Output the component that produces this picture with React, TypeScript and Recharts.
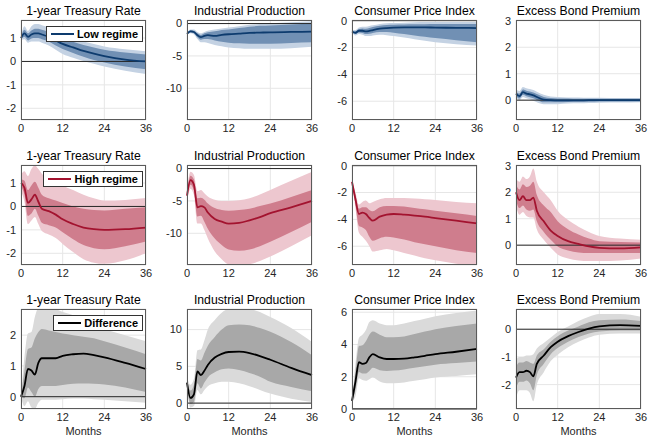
import React from "react";
import { ComposedChart, Area, Line, XAxis, YAxis, CartesianGrid, ReferenceLine } from "recharts";

const MONTHS = [0, 1, 2, 3, 4, 5, 6, 8, 10, 12, 15, 18, 21, 24, 30, 36];
const X_TICKS = [0, 12, 24, 36];
const TITLES = ["1-year Treasury Rate", "Industrial Production", "Consumer Price Index", "Excess Bond Premium"];
const FONT = '"Liberation Sans", Arial, Helvetica, sans-serif';

// low regime
const lowTsy = {
  mid: [1.0, 1.2, 1.05, 1.15, 1.2, 1.2, 1.15, 1.05, 0.9, 0.75, 0.6, 0.45, 0.33, 0.23, 0.08, 0.0],
  hi68: [1.05, 1.35, 1.2, 1.32, 1.4, 1.4, 1.35, 1.25, 1.12, 0.97, 0.84, 0.7, 0.6, 0.5, 0.38, 0.3],
  lo68: [0.95, 1.05, 0.9, 0.98, 1.0, 1.0, 0.95, 0.85, 0.68, 0.53, 0.36, 0.2, 0.06, -0.05, -0.22, -0.33],
  hi90: [1.1, 1.5, 1.3, 1.5, 1.6, 1.6, 1.55, 1.45, 1.3, 1.12, 0.98, 0.85, 0.74, 0.64, 0.52, 0.44],
  lo90: [0.9, 0.95, 0.8, 0.85, 0.85, 0.85, 0.8, 0.68, 0.5, 0.32, 0.16, 0.02, -0.1, -0.22, -0.4, -0.54],
};
const lowIp = {
  mid: [-1.6, -1.2, -1.3, -1.8, -2.1, -1.9, -1.8, -1.9, -1.75, -1.65, -1.55, -1.45, -1.4, -1.35, -1.3, -1.25],
  hi68: [-1.5, -1.05, -1.1, -1.5, -1.75, -1.5, -1.35, -1.2, -1.0, -0.9, -0.7, -0.5, -0.35, -0.3, -0.15, 0.0],
  lo68: [-1.7, -1.35, -1.5, -2.1, -2.5, -2.4, -2.4, -2.6, -2.8, -2.95, -3.05, -3.1, -3.1, -3.1, -3.0, -2.9],
  hi90: [-1.4, -0.9, -0.9, -1.3, -1.5, -1.3, -1.1, -0.9, -0.75, -0.6, -0.4, -0.2, -0.05, 0.05, 0.2, 0.35],
  lo90: [-1.8, -1.5, -1.7, -2.4, -2.9, -2.9, -3.0, -3.3, -3.5, -3.7, -3.8, -3.9, -3.9, -3.9, -3.8, -3.6],
};
const lowCpi = {
  mid: [-0.8, -0.9, -0.75, -0.75, -0.8, -0.76, -0.7, -0.6, -0.55, -0.52, -0.5, -0.5, -0.5, -0.52, -0.53, -0.55],
  hi68: [-0.75, -0.8, -0.62, -0.58, -0.6, -0.55, -0.48, -0.38, -0.32, -0.3, -0.28, -0.27, -0.26, -0.25, -0.25, -0.25],
  lo68: [-0.85, -1.0, -0.88, -0.92, -1.0, -0.98, -0.92, -0.85, -0.85, -0.9, -1.0, -1.1, -1.2, -1.3, -1.45, -1.6],
  hi90: [-0.7, -0.7, -0.5, -0.45, -0.45, -0.4, -0.35, -0.25, -0.2, -0.18, -0.15, -0.12, -0.1, -0.1, -0.1, -0.1],
  lo90: [-0.9, -1.1, -1.0, -1.05, -1.15, -1.15, -1.1, -1.05, -1.08, -1.15, -1.25, -1.38, -1.5, -1.6, -1.75, -1.85],
};
const lowEbp = {
  mid: [0.25, 0.15, 0.3, 0.25, 0.22, 0.18, 0.12, 0.02, 0.0, -0.01, -0.01, -0.01, 0.0, 0.0, 0.0, 0.0],
  hi68: [0.33, 0.25, 0.4, 0.36, 0.33, 0.29, 0.23, 0.12, 0.08, 0.06, 0.06, 0.05, 0.05, 0.05, 0.05, 0.05],
  lo68: [0.17, 0.06, 0.2, 0.15, 0.11, 0.07, 0.01, -0.08, -0.08, -0.08, -0.07, -0.06, -0.06, -0.05, -0.05, -0.05],
  hi90: [0.4, 0.35, 0.5, 0.45, 0.42, 0.38, 0.32, 0.2, 0.14, 0.12, 0.1, 0.1, 0.09, 0.09, 0.08, 0.08],
  lo90: [0.1, 0.0, 0.12, 0.07, 0.03, -0.02, -0.08, -0.15, -0.15, -0.15, -0.13, -0.12, -0.11, -0.1, -0.09, -0.08],
};

// high regime
const highTsy = {
  mid: [1.0, 0.8, 0.15, 0.3, 0.5, 0.2, -0.1, -0.2, -0.35, -0.55, -0.75, -0.9, -0.97, -1.0, -0.97, -0.9],
  hi68: [1.15, 1.1, 0.7, 0.9, 1.05, 0.8, 0.5, 0.35, 0.25, 0.15, 0.0, -0.1, -0.15, -0.17, -0.1, -0.03],
  lo68: [0.85, 0.5, -0.4, -0.3, -0.1, -0.4, -0.7, -0.8, -0.9, -1.1, -1.4, -1.65, -1.78, -1.83, -1.7, -1.5],
  hi90: [1.35, 1.5, 1.3, 1.6, 1.75, 1.6, 1.4, 1.2, 1.05, 0.9, 0.7, 0.5, 0.35, 0.25, 0.28, 0.36],
  lo90: [0.65, 0.2, -0.75, -0.6, -0.45, -0.75, -1.05, -1.2, -1.35, -1.6, -1.95, -2.25, -2.4, -2.45, -2.3, -2.0],
};
const highIp = {
  mid: [-4.2, -1.8, -2.5, -6.0, -5.8, -6.0, -6.8, -7.8, -8.2, -8.5, -8.4, -8.0, -7.5, -6.9, -6.0, -5.0],
  hi68: [-3.7, -1.1, -1.7, -4.6, -4.5, -4.8, -5.4, -6.1, -6.4, -6.5, -6.4, -6.2, -5.8, -5.4, -4.4, -3.3],
  lo68: [-4.7, -2.5, -3.4, -7.4, -7.3, -8.2, -9.3, -10.8, -11.8, -12.5, -12.7, -12.5, -12.0, -11.3, -9.8, -8.2],
  hi90: [-3.2, -0.5, -1.0, -3.5, -3.3, -3.8, -4.3, -4.8, -5.0, -5.0, -4.9, -4.6, -4.0, -3.3, -1.9, -0.5],
  lo90: [-5.2, -3.1, -4.1, -8.5, -8.5, -9.5, -10.8, -12.8, -14.0, -14.8, -15.0, -14.8, -14.3, -13.6, -12.0, -10.3],
};
const highCpi = {
  mid: [-1.2, -2.5, -3.6, -3.5, -3.6, -3.9, -4.1, -3.8, -3.65, -3.6, -3.65, -3.72, -3.8, -3.9, -4.1, -4.3],
  hi68: [-1.15, -2.2, -3.2, -3.1, -3.1, -3.3, -3.4, -3.1, -3.0, -3.0, -3.05, -3.15, -3.25, -3.35, -3.55, -3.75],
  lo68: [-1.25, -2.9, -4.5, -4.6, -4.8, -5.3, -5.6, -5.4, -5.3, -5.35, -5.5, -5.7, -5.85, -6.0, -6.3, -6.5],
  hi90: [-1.1, -2.0, -2.9, -2.7, -2.6, -2.8, -2.7, -2.5, -2.4, -2.4, -2.4, -2.45, -2.5, -2.55, -2.7, -2.8],
  lo90: [-1.3, -3.2, -5.0, -5.3, -5.6, -6.0, -6.4, -6.3, -6.2, -6.3, -6.5, -6.7, -6.9, -7.05, -7.3, -7.45],
};
const highEbp = {
  mid: [2.0, 1.7, 1.85, 1.7, 1.7, 1.8, 1.3, 0.9, 0.55, 0.35, 0.15, 0.05, -0.05, -0.1, -0.12, -0.08],
  hi68: [2.3, 2.1, 2.3, 2.2, 2.25, 2.4, 1.9, 1.5, 1.25, 0.9, 0.6, 0.4, 0.25, 0.15, 0.12, 0.1],
  lo68: [1.7, 1.4, 1.5, 1.35, 1.3, 1.35, 0.9, 0.5, 0.2, -0.05, -0.2, -0.28, -0.3, -0.3, -0.3, -0.3],
  hi90: [2.5, 2.4, 2.6, 2.5, 2.6, 2.9, 2.4, 2.0, 1.7, 1.3, 0.95, 0.7, 0.5, 0.35, 0.25, 0.2],
  lo90: [1.5, 1.15, 1.25, 1.1, 1.05, 1.05, 0.6, 0.2, -0.1, -0.35, -0.5, -0.58, -0.6, -0.6, -0.58, -0.5],
};

// difference
const diffTsy = {
  mid: [0.0, 0.35, 0.9, 0.85, 0.72, 1.1, 1.25, 1.25, 1.25, 1.33, 1.38, 1.4, 1.35, 1.28, 1.1, 0.9],
  hi68: [0.0, 0.85, 1.55, 1.6, 1.9, 2.1, 2.2, 2.15, 2.1, 2.05, 2.0, 1.95, 1.9, 1.8, 1.6, 1.38],
  lo68: [0.0, -0.05, 0.3, 0.15, 0.0, 0.25, 0.35, 0.35, 0.35, 0.38, 0.42, 0.43, 0.42, 0.4, 0.3, 0.15],
  hi90: [0.0, 1.3, 2.05, 2.1, 2.6, 2.9, 2.95, 2.9, 2.85, 2.75, 2.65, 2.5, 2.35, 2.2, 2.0, 1.8],
  lo90: [0.0, -0.3, -0.15, -0.35, -0.4, -0.2, -0.1, -0.1, -0.1, -0.08, -0.06, -0.06, -0.08, -0.1, -0.15, -0.2],
};
const diffIp = {
  mid: [2.8, 0.7, 1.2, 4.3, 3.8, 4.4, 5.2, 6.2, 6.7, 6.95, 7.0, 6.8, 6.4, 5.9, 4.8, 3.8],
  hi68: [3.2, 1.7, 2.5, 6.0, 5.8, 6.8, 7.8, 9.0, 10.0, 10.6, 10.7, 10.6, 10.2, 9.7, 8.3, 6.5],
  lo68: [2.4, -0.1, 0.2, 2.7, 2.0, 2.8, 3.5, 4.2, 4.6, 4.7, 4.5, 4.1, 3.6, 2.9, 2.2, 1.6],
  hi90: [3.6, 2.5, 3.3, 7.2, 7.3, 8.5, 10.0, 11.3, 12.3, 12.8, 12.9, 12.8, 12.4, 11.7, 10.2, 8.3],
  lo90: [2.0, -0.6, -0.4, 1.8, 1.2, 1.8, 2.3, 2.7, 2.9, 2.9, 2.7, 2.3, 1.8, 1.3, 0.6, 0.15],
};
const diffCpi = {
  mid: [0.5, 1.7, 2.9, 2.8, 2.85, 3.2, 3.4, 3.2, 3.1, 3.1, 3.12, 3.2, 3.3, 3.4, 3.55, 3.72],
  hi68: [0.52, 2.3, 3.9, 3.95, 4.2, 4.6, 4.8, 4.6, 4.45, 4.45, 4.5, 4.65, 4.8, 4.95, 5.15, 5.3],
  lo68: [0.48, 1.2, 2.3, 2.2, 2.2, 2.35, 2.55, 2.4, 2.35, 2.38, 2.45, 2.55, 2.65, 2.75, 2.85, 2.95],
  hi90: [0.55, 2.8, 4.4, 4.6, 4.9, 5.4, 5.5, 5.3, 5.2, 5.2, 5.3, 5.45, 5.6, 5.75, 5.95, 6.1],
  lo90: [0.45, 0.8, 1.9, 1.8, 1.75, 1.85, 1.95, 1.7, 1.6, 1.6, 1.65, 1.75, 1.85, 1.95, 2.05, 2.15],
};
const diffEbp = {
  mid: [-1.75, -1.55, -1.55, -1.5, -1.55, -1.7, -1.25, -0.95, -0.65, -0.45, -0.25, -0.1, 0.02, 0.1, 0.15, 0.12],
  hi68: [-1.35, -1.2, -1.2, -1.15, -1.2, -1.25, -0.95, -0.72, -0.45, -0.25, -0.05, 0.1, 0.25, 0.32, 0.35, 0.3],
  lo68: [-2.15, -1.9, -1.9, -1.85, -1.95, -2.2, -1.65, -1.25, -0.9, -0.68, -0.45, -0.28, -0.15, -0.08, -0.05, -0.05],
  hi90: [-1.1, -1.0, -1.0, -0.95, -0.95, -0.9, -0.7, -0.5, -0.3, -0.1, 0.1, 0.3, 0.45, 0.55, 0.55, 0.45],
  lo90: [-2.5, -2.2, -2.2, -2.2, -2.3, -2.6, -2.0, -1.55, -1.15, -0.92, -0.65, -0.45, -0.3, -0.2, -0.15, -0.15],
};

const LOW = { line: "#0d3b6e", inner: "#7190b4", outer: "#c4d2e3", name: "Low regime" };
const HIGH = { line: "#a3132f", inner: "#cf7d8d", outer: "#edc7cf", name: "High regime" };
const DIFF = { line: "#000000", inner: "#a8a8a8", outer: "#dadada", name: "Difference" };

const COL_LEFT = [21, 187, 352, 516];
const ROW_TOP = [20, 165, 309];
const PW = 125;
const PH = 100;
const YW = 30;
const RM = 12;

const ROWS = [
  {
    colors: LOW,
    bands: [lowTsy, lowIp, lowCpi, lowEbp],
    domains: [[-2.5, 1.77], [-14.9, 0.55], [-7.4, 0.05], [-0.75, 3.03]],
    ticks: [[-2, -1, 0, 1], [-10, -5, 0], [-6, -4, -2, 0], [0, 1, 2, 3]],
  },
  {
    colors: HIGH,
    bands: [highTsy, highIp, highCpi, highEbp],
    domains: [[-2.5, 1.77], [-14.9, 0.55], [-7.4, 0.05], [-0.75, 3.03]],
    ticks: [[-2, -1, 0, 1], [-10, -5, 0], [-6, -4, -2, 0], [0, 1, 2, 3]],
  },
  {
    colors: DIFF,
    bands: [diffTsy, diffIp, diffCpi, diffEbp],
    domains: [[-0.4, 2.85], [-0.8, 12.8], [0, 6.2], [-2.88, 0.73]],
    ticks: [[0, 1, 2], [0, 5, 10], [0, 2, 4, 6], [-2, -1, 0]],
  },
];

function Panel({ left, top, band, colors, domain, ticks, title, legend, months }: any) {
  const data = MONTHS.map((m, i) => ({
    m,
    mid: band.mid[i],
    outer: [band.lo90[i], band.hi90[i]],
    inner: [band.lo68[i], band.hi68[i]],
  }));
  const tick = { fontSize: 11, fill: "#262626", fontFamily: FONT };
  return (
    <div style={{ position: "absolute", left: left - YW, top: top - 20, width: YW + PW + RM, height: PH + 60 }}>
      <div
        style={{
          position: "absolute", left: YW - 10, top: 4, width: PW + 20, textAlign: "center",
          fontSize: 12.2, lineHeight: "14px", color: "#000", fontFamily: FONT, whiteSpace: "nowrap",
        }}
      >
        {title}
      </div>
      <ComposedChart width={YW + PW + RM} height={20 + PH + 24} data={data} margin={{ top: 20, right: RM, bottom: 0, left: 0 }}>
        <CartesianGrid stroke="#e6e6e6" strokeWidth={1} />
        <XAxis dataKey="m" type="number" domain={[0, 36]} ticks={X_TICKS} height={24} tickLine={false} axisLine={false} tick={tick} tickSize={3} tickMargin={1} interval={0} />
        <YAxis type="number" domain={domain} ticks={ticks} allowDataOverflow width={YW} tickLine={false} axisLine={false} tick={tick} tickSize={3} tickMargin={2} interval={0} />
        <Area dataKey="outer" type="monotone" stroke="none" fill={colors.outer} fillOpacity={1} isAnimationActive={false} />
        <Area dataKey="inner" type="monotone" stroke="none" fill={colors.inner} fillOpacity={1} isAnimationActive={false} />
        <ReferenceLine y={0} stroke="#262626" strokeWidth={1} />
        <Line dataKey="mid" type="monotone" stroke={colors.line} strokeWidth={1.8} dot={false} isAnimationActive={false} />
      </ComposedChart>
      <div
        style={{
          position: "absolute", left: YW, top: 20, width: PW, height: PH,
          border: "1px solid #5a5a5a", boxSizing: "border-box", pointerEvents: "none",
        }}
      />
      {legend && (
        <div
          style={{
            position: "absolute", right: RM + 3, top: 20 + 6, height: 16, background: "#fff",
            border: "1px solid #333", boxSizing: "border-box", display: "flex", alignItems: "center",
            padding: "0 4px 0 4px", fontFamily: FONT, fontSize: 11, fontWeight: "bold", color: "#000",
          }}
        >
          <span style={{ display: "inline-block", width: 23, height: 2, background: colors.line, marginRight: 3 }} />
          {colors.name}
        </div>
      )}
      {months && (
        <div
          style={{
            position: "absolute", left: YW, top: 20 + PH + 16, width: PW, textAlign: "center",
            fontSize: 11, lineHeight: "13px", color: "#262626", fontFamily: FONT,
          }}
        >
          Months
        </div>
      )}
    </div>
  );
}

export default function App() {
  return (
    <div style={{ position: "absolute", left: 0, top: 0, width: 650, height: 439, background: "#fff", overflow: "hidden" }}>
      {ROWS.map((row, r) =>
        row.bands.map((band, c) => (
          <Panel
            key={`${r}-${c}`}
            left={COL_LEFT[c]}
            top={ROW_TOP[r]}
            band={band}
            colors={row.colors}
            domain={row.domains[c]}
            ticks={row.ticks[c]}
            title={TITLES[c]}
            legend={c === 0}
            months={r === 2}
          />
        ))
      )}
    </div>
  );
}
